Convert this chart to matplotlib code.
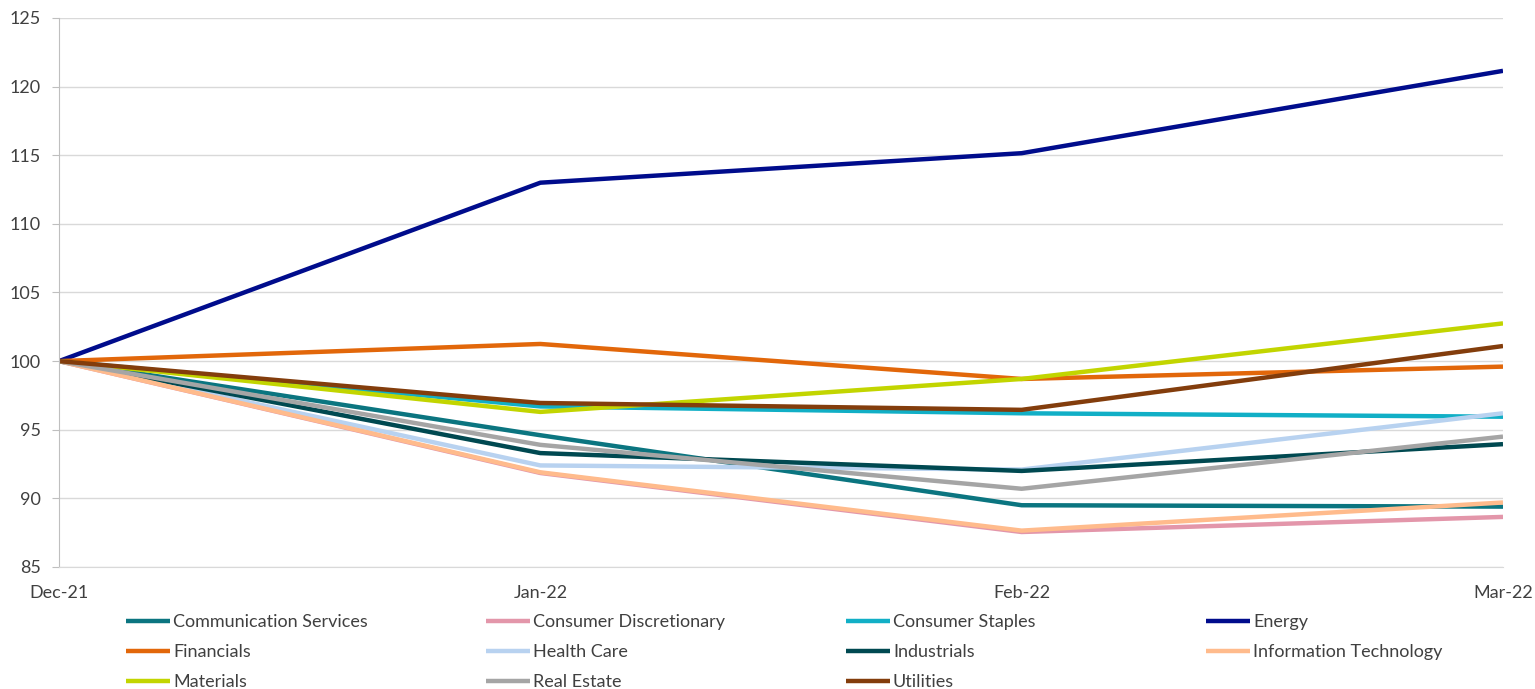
import matplotlib
matplotlib.use("Agg")
import matplotlib.pyplot as plt

plt.rcParams['font.family'] = ['Lato', 'DejaVu Sans']

months = ["Dec-21", "Jan-22", "Feb-22", "Mar-22"]

comm_services = [100, 94.6, 89.5, 89.4]
cons_discretionary = [100, 91.85, 87.55, 88.65]
cons_staples = [100, 96.7, 96.2, 95.95]
energy = [100, 113.0, 115.15, 121.15]
financials = [100, 101.25, 98.7, 99.6]
health_care = [100, 92.4, 92.1, 96.2]
industrials = [100, 93.3, 92.0, 93.95]
info_tech = [100, 91.9, 87.65, 89.7]
materials = [100, 96.3, 98.7, 102.75]
real_estate = [100, 93.9, 90.7, 94.5]
utilities = [100, 96.95, 96.45, 101.1]

series = [
    ("Communication Services", comm_services, "#0B7580"),
    ("Consumer Discretionary", cons_discretionary, "#E396AA"),
    ("Consumer Staples", cons_staples, "#11AFC6"),
    ("Energy", energy, "#000C8C"),
    ("Financials", financials, "#E2670A"),
    ("Health Care", health_care, "#B8D2F0"),
    ("Industrials", industrials, "#004951"),
    ("Information Technology", info_tech, "#FFBB8C"),
    ("Materials", materials, "#C2D500"),
    ("Real Estate", real_estate, "#A5A5A5"),
    ("Utilities", utilities, "#833D0C"),
]

fig = plt.figure(figsize=(15.35, 6.89), dpi=100)
ax = fig.add_axes([59 / 1535, (689 - 567) / 689, (1503 - 59) / 1535, (567 - 18) / 689])

x = range(len(months))
lines = []
for name, vals, col in series:
    ln, = ax.plot(x, vals, color=col, lw=3.2, label=name, solid_capstyle="butt")
    lines.append(ln)

ax.set_xlim(0, len(months) - 1)
ax.set_ylim(85, 125)
ax.set_yticks(range(85, 126, 5))
ax.set_xticks(list(x))
ax.set_xticklabels(months)
ax.grid(axis="y", color="#D9D9D9", lw=1)
ax.set_axisbelow(True)
for s in ["top", "right"]:
    ax.spines[s].set_visible(False)
ax.spines["left"].set_color("#BFBFBF")
ax.spines["bottom"].set_color("#D9D9D9")
ax.tick_params(axis="y", length=5, color="#BFBFBF", labelsize=13, labelcolor="#404040", pad=8)
ax.tick_params(axis="x", length=0, labelsize=13, labelcolor="#404040", pad=13)

# legend laid out row by row, four columns
col_x = [126, 486, 846, 1206]
for c in range(4):
    hs = lines[c::4]
    fig.legend(handles=hs, labels=[h.get_label() for h in hs],
               loc="upper left", bbox_to_anchor=(col_x[c] / 1535, 1 - 614 / 689),
               frameon=False, fontsize=13, handlelength=2.45, handletextpad=0.15,
               labelspacing=0.78, borderpad=0, borderaxespad=0, labelcolor="#404040")

fig.savefig("out.png", dpi=100)
